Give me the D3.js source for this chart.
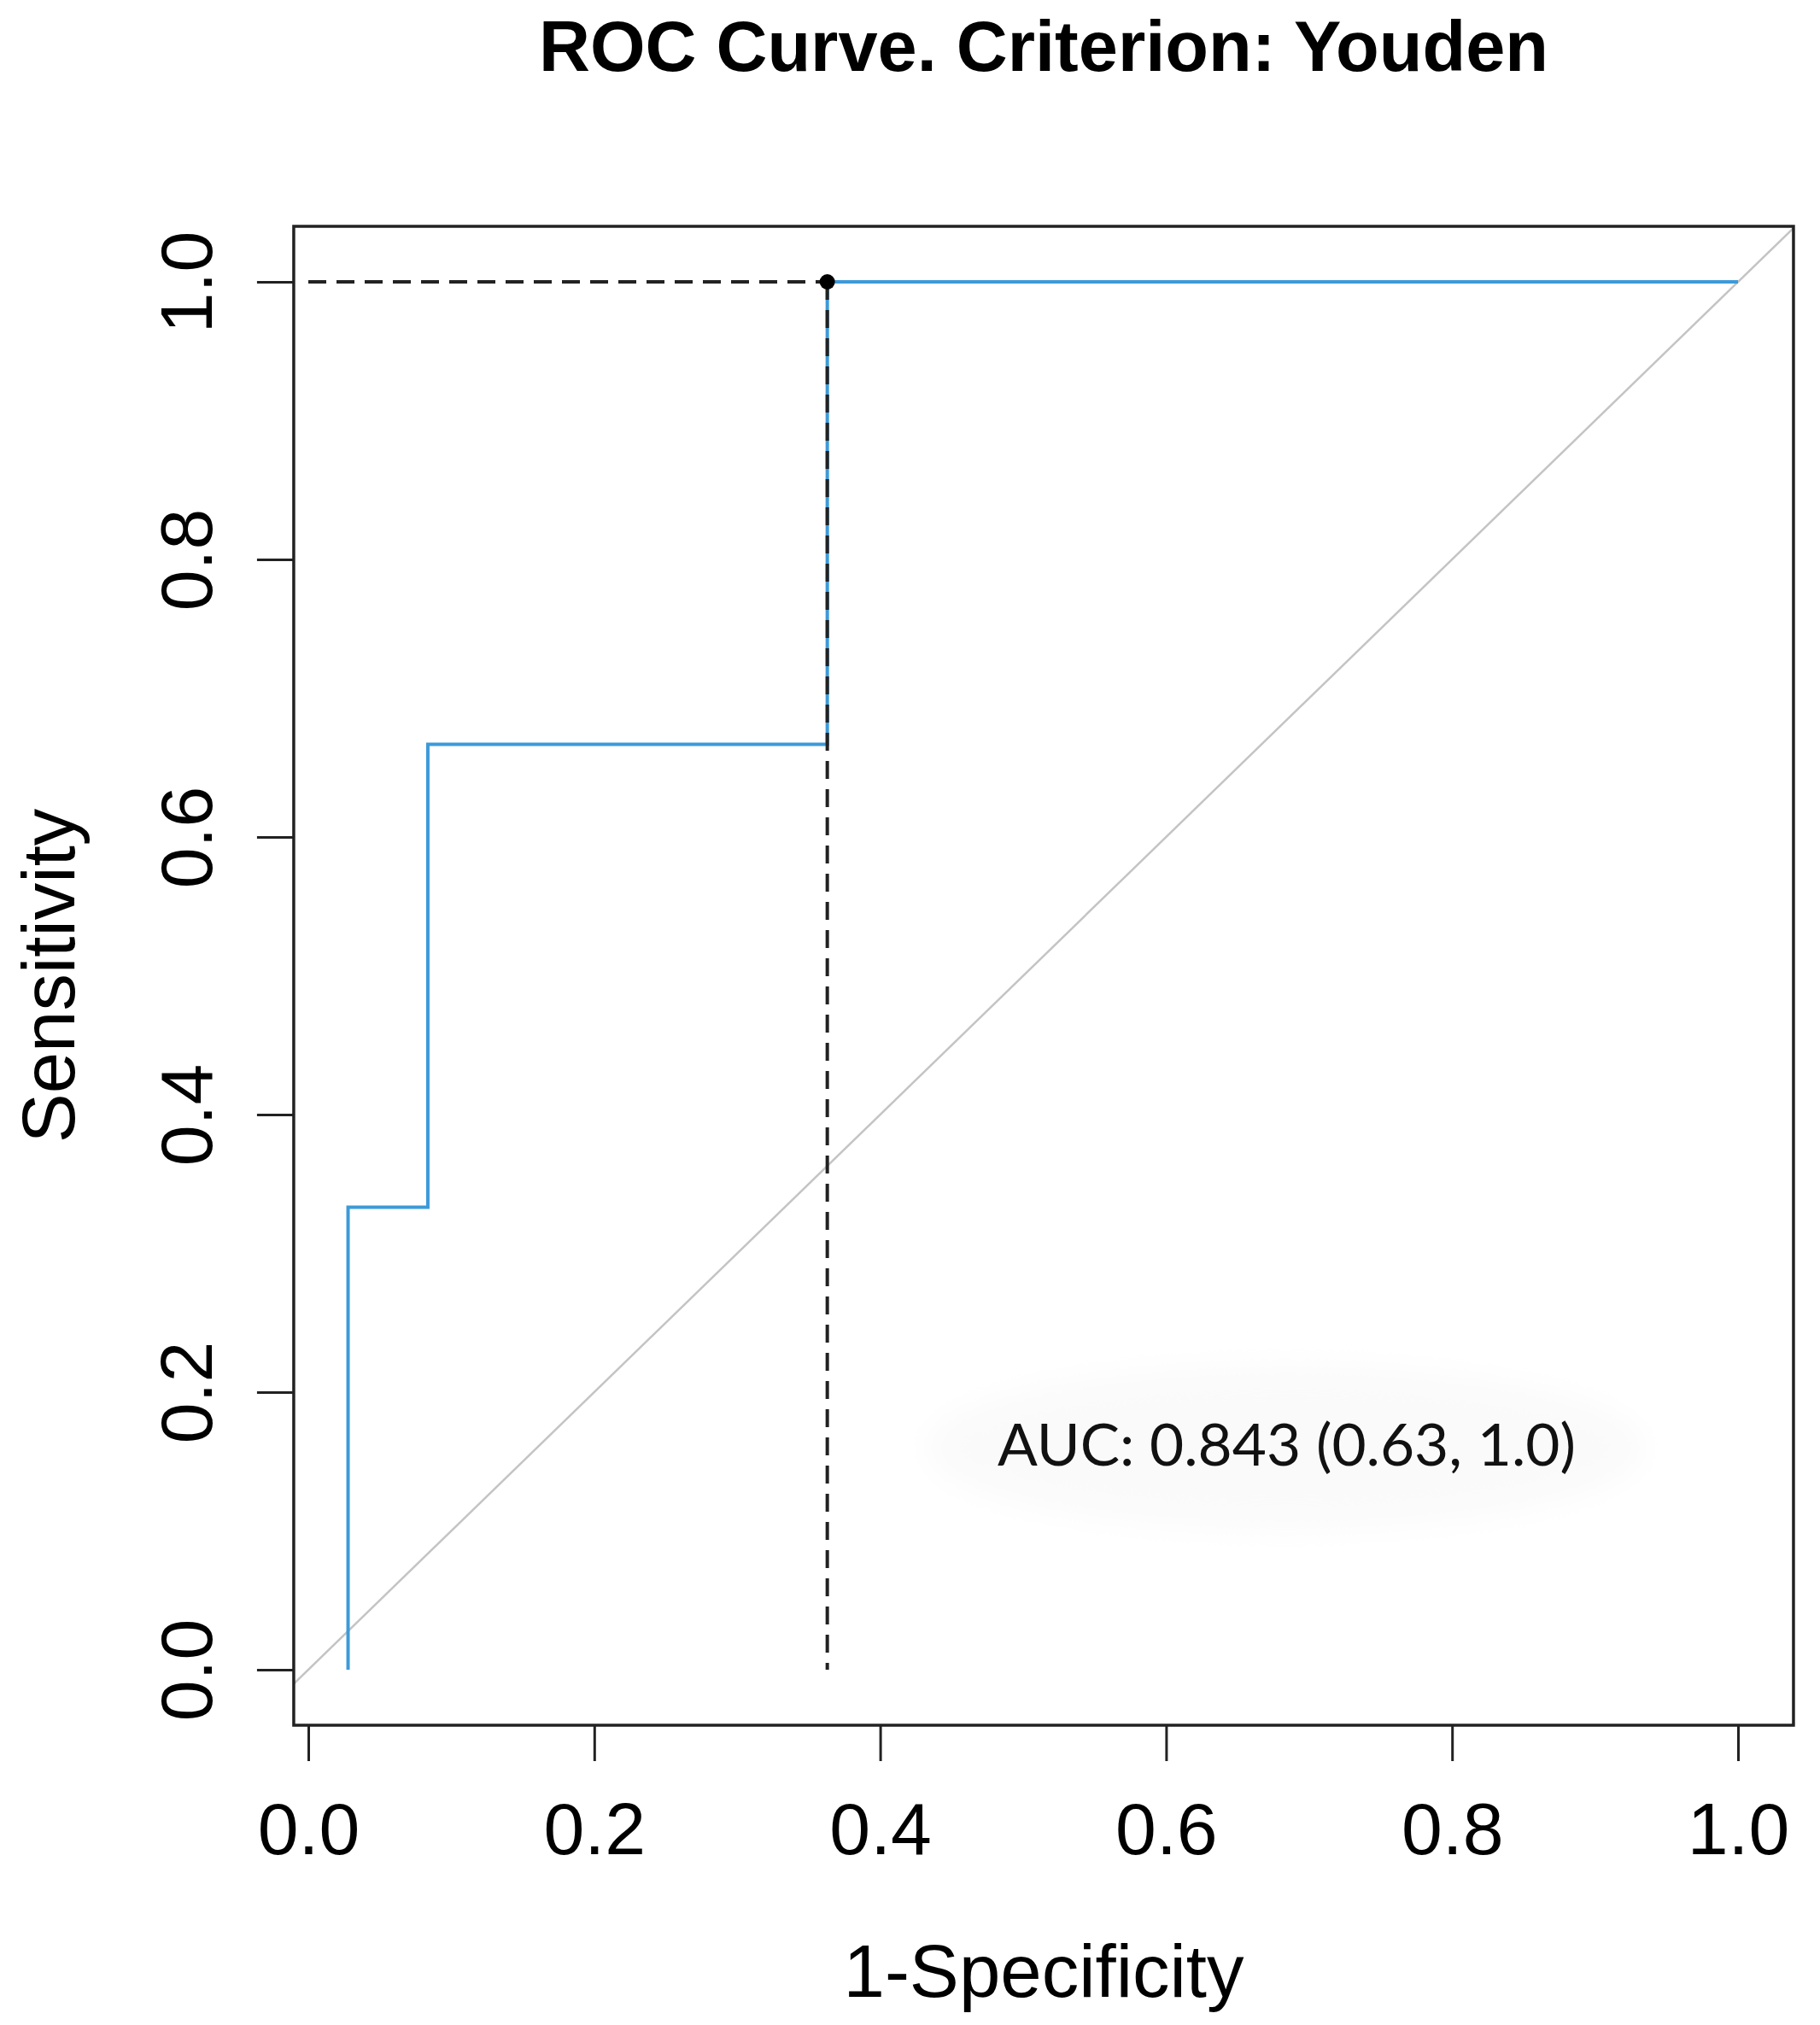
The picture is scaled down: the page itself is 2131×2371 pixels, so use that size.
<!DOCTYPE html>
<html>
<head>
<meta charset="utf-8">
<script src="https://cdn.jsdelivr.net/npm/d3@7"></script>
<style>
  body { margin: 0; background: #fff; }
  svg { display: block; }
</style>
</head>
<body>
<svg></svg>
<script>
const WIDTH = 2131;
const HEIGHT = 2371;

// ROC curve points (1-specificity, sensitivity)
const fpr = [0.0278, 0.0278, 0.0836, 0.0836, 0.363, 0.363, 1.0];
const sensitivity = [0, 0.3333, 0.3333, 0.6667, 0.6667, 1.0, 1.0];

// optimal cutpoint (Youden)
const optimalFpr = [0.363];
const optimalSens = [1.0];

// axes
const tickValues = [0, 0.2, 0.4, 0.6, 0.8, 1.0];
const tickLabels = ["0.0", "0.2", "0.4", "0.6", "0.8", "1.0"];
const xLimits = [-0.0102, 1.0388];
const yLimits = [-0.04, 1.04];

const titleText = "ROC Curve. Criterion: Youden";
const xTitle = "1-Specificity";
const yTitle = "Sensitivity";
const aucText = "AUC: 0.843 (0.63, 1.0)";

const svg = d3.select('svg')
    .attr('width', WIDTH)
    .attr('height', HEIGHT);

var xScale = d3.scaleLinear().domain([0, 1]).range([361, 2035]);
var yScale = d3.scaleLinear().domain([0, 1]).range([1955, 330]);

// plot box edges (window.top is reserved, so no plain "top")
var boxLeft = xScale(xLimits[0]), boxRight = xScale(xLimits[1]);
var boxTop = yScale(yLimits[1]), boxBottom = yScale(yLimits[0]);

var defs = svg.append('defs');
defs.append('clipPath').attr('id', 'plot-clip')
    .append('rect')
    .attr('x', boxLeft).attr('y', boxTop)
    .attr('width', boxRight - boxLeft).attr('height', boxBottom - boxTop);

var blur = defs.append('filter').attr('id', 'soft')
    .attr('x', '-20%').attr('y', '-50%').attr('width', '140%').attr('height', '200%');
blur.append('feGaussianBlur').attr('stdDeviation', 18);

// faint halo behind the AUC label
svg.append('ellipse')
    .attr('cx', 1505).attr('cy', 1695)
    .attr('rx', 420).attr('ry', 95)
    .attr('fill', '#fafafa')
    .attr('filter', 'url(#soft)');

// reference diagonal y = x, clipped to the box
var diagLo = Math.max(xLimits[0], yLimits[0]) - 0.05;
var diagHi = Math.min(xLimits[1], yLimits[1]) + 0.05;
svg.append('line')
    .attr('clip-path', 'url(#plot-clip)')
    .attr('x1', xScale(diagLo)).attr('y1', yScale(diagLo))
    .attr('x2', xScale(diagHi)).attr('y2', yScale(diagHi))
    .attr('stroke', '#c4c4c4')
    .attr('stroke-width', 2.5);

// ROC curve
var rocLine = d3.line()
    .x(function(d, i){ return xScale(fpr[i]); })
    .y(function(d, i){ return yScale(sensitivity[i]); });
svg.append('path')
    .datum(fpr)
    .attr('d', rocLine)
    .attr('fill', 'none')
    .attr('stroke', '#3d9ad8')
    .attr('stroke-width', 4);

// dashed guides to the optimal point
svg.append('line')
    .attr('x1', xScale(0)).attr('y1', yScale(optimalSens[0]))
    .attr('x2', xScale(optimalFpr[0])).attr('y2', yScale(optimalSens[0]))
    .attr('stroke', '#222').attr('stroke-width', 4)
    .attr('stroke-dasharray', '21,12');
svg.append('line')
    .attr('x1', xScale(optimalFpr[0])).attr('y1', yScale(optimalSens[0]))
    .attr('x2', xScale(optimalFpr[0])).attr('y2', yScale(0))
    .attr('stroke', '#222').attr('stroke-width', 4)
    .attr('stroke-dasharray', '21,12');

svg.selectAll('circle.opt')
    .data(optimalFpr)
    .enter()
    .append('circle')
    .attr('class', 'opt')
    .attr('cx', function(d){ return xScale(d); })
    .attr('cy', function(d, i){ return yScale(optimalSens[i]); })
    .attr('r', 9)
    .attr('fill', '#000');

// box
svg.append('rect')
    .attr('x', boxLeft).attr('y', boxTop)
    .attr('width', boxRight - boxLeft).attr('height', boxBottom - boxTop)
    .attr('fill', 'none')
    .attr('stroke', '#222')
    .attr('stroke-width', 3.5);

// bottom axis
var bottomAxis = d3.axisBottom(xScale)
    .tickValues(tickValues)
    .tickFormat(function(d, i){ return tickLabels[i]; })
    .tickSize(42);
var gx = svg.append('g').attr('id', 'bottom-axis')
    .attr('transform', 'translate(0,' + boxBottom + ')')
    .call(bottomAxis);
gx.select('.domain').remove();
gx.selectAll('line').attr('stroke', '#222').attr('stroke-width', 3);
gx.selectAll('text')
    .attr('y', 2171 - boxBottom)
    .attr('dy', null)
    .attr('fill', '#000')
    .style('font-family', '"Liberation Sans", Arial, sans-serif')
    .style('font-size', '86px');

// left axis
var leftAxis = d3.axisLeft(yScale)
    .tickValues(tickValues)
    .tickFormat(function(d, i){ return tickLabels[i]; })
    .tickSize(43);
var gy = svg.append('g').attr('id', 'left-axis')
    .attr('transform', 'translate(' + boxLeft + ',0)')
    .call(leftAxis);
gy.select('.domain').remove();
gy.selectAll('line').attr('stroke', '#222').attr('stroke-width', 3);
gy.selectAll('text')
    .attr('x', null).attr('dy', null)
    .attr('transform', 'translate(' + (248 - boxLeft) + ',0) rotate(-90)')
    .attr('text-anchor', 'middle')
    .attr('fill', '#000')
    .style('font-family', '"Liberation Sans", Arial, sans-serif')
    .style('font-size', '86px');

// titles
svg.append('text')
    .attr('x', 1222).attr('y', 83)
    .attr('text-anchor', 'middle')
    .style('font-family', '"Liberation Sans", Arial, sans-serif')
    .style('font-weight', 'bold')
    .style('font-size', '83px')
    .text(titleText);

svg.append('text')
    .attr('x', 1222).attr('y', 2338)
    .attr('text-anchor', 'middle')
    .style('font-family', '"Liberation Sans", Arial, sans-serif')
    .style('font-size', '87px')
    .text(xTitle);

svg.append('text')
    .attr('transform', 'translate(87,' + ((boxTop + boxBottom) / 2) + ') rotate(-90)')
    .attr('text-anchor', 'middle')
    .style('font-family', '"Liberation Sans", Arial, sans-serif')
    .style('font-size', '87px')
    .text(yTitle);

// AUC label
svg.append('text')
    .attr('x', 1168).attr('y', 1716)
    .attr('textLength', 677)
    .attr('lengthAdjust', 'spacingAndGlyphs')
    .style('font-family', 'Lato, "Open Sans", sans-serif')
    .style('font-size', '67px')
    .attr('fill', '#111')
    .text(aucText);
</script>
</body>
</html>
